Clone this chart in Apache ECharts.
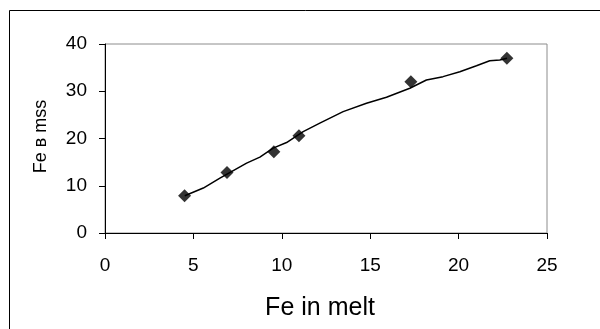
<!DOCTYPE html>
<html>
<head>
<meta charset="utf-8">
<script src="https://cdn.jsdelivr.net/npm/echarts@6/dist/echarts.min.js"></script>
<style>html,body{margin:0;padding:0;background:#fff}#c{width:600px;height:329px}</style>
</head>
<body>
<div id="c"></div>
<script>
// measured points
var pointX = [4.5, 6.9, 9.55, 10.97, 17.3, 22.73];
var pointY = [7.9, 12.8, 17.2, 20.6, 32.0, 37.0];
// trend curve
var curveX = [4.51, 5.56, 6.5, 8.01, 8.76, 9.51, 10.27, 11.21, 12.15, 13.47, 14.79, 15.92, 17.24, 18.18, 19.12, 20.07, 21.01, 21.76, 22.33, 22.74];
var curveY = [7.88, 9.51, 11.62, 14.79, 16.06, 17.96, 19.14, 21.47, 23.24, 25.69, 27.47, 28.73, 30.64, 32.39, 33.09, 34.14, 35.41, 36.47, 36.62, 36.97];
var xTicks = [0, 5, 10, 15, 20, 25];
var yTicks = [0, 10, 20, 30, 40];
var xName = 'Fe in melt';
var yName = 'Fe в mss';

var font = '"Liberation Sans", Arial, sans-serif';
var chart = echarts.init(document.getElementById('c'), null, {renderer: 'canvas'});
var pts = pointX.map(function (x, i) { return [x, pointY[i]]; });
var crv = curveX.map(function (x, i) { return [x, curveY[i]]; });
chart.setOption({
  animation: false,
  backgroundColor: '#fff',
  graphic: [{
    type: 'rect', z: -10,
    shape: {x: 9.5, y: 10.5, width: 620, height: 340},
    style: {fill: 'none', stroke: '#000', lineWidth: 1}
  }],
  grid: {left: 105, top: 44, right: 53, bottom: 96, show: true, borderColor: '#8c8c8c', borderWidth: 1, backgroundColor: '#fff'},
  xAxis: {
    type: 'value', min: xTicks[0], max: xTicks[xTicks.length - 1], interval: 5,
    name: xName, nameLocation: 'middle', nameGap: 63,
    nameTextStyle: {fontFamily: font, fontSize: 25, color: '#000', padding: [0, 12, 0, 0]},
    axisLine: {show: true, lineStyle: {color: '#000', width: 1}},
    axisTick: {show: true, inside: false, length: 6, lineStyle: {color: '#000'}},
    axisLabel: {fontFamily: font, fontSize: 19, color: '#000', margin: 23},
    splitLine: {show: false}
  },
  yAxis: {
    type: 'value', min: yTicks[0], max: yTicks[yTicks.length - 1], interval: 10,
    name: yName, nameLocation: 'middle', nameGap: 55, nameRotate: 90,
    nameTextStyle: {fontFamily: font, fontSize: 18, color: '#000', padding: [0, 0, 0, 4]},
    axisLine: {show: true, lineStyle: {color: '#000', width: 1}},
    axisTick: {show: true, inside: false, length: 6, lineStyle: {color: '#000'}},
    axisLabel: {fontFamily: font, fontSize: 19, color: '#000', margin: 18},
    splitLine: {show: false}
  },
  series: [{
    type: 'line', data: crv, showSymbol: false, symbol: 'none',
    lineStyle: {color: '#000', width: 1.5}, z: 2
  }, {
    type: 'scatter', data: pts, symbol: 'diamond', symbolSize: 13,
    itemStyle: {color: '#000'}, z: 3
  }]
});
</script>
</body>
</html>
